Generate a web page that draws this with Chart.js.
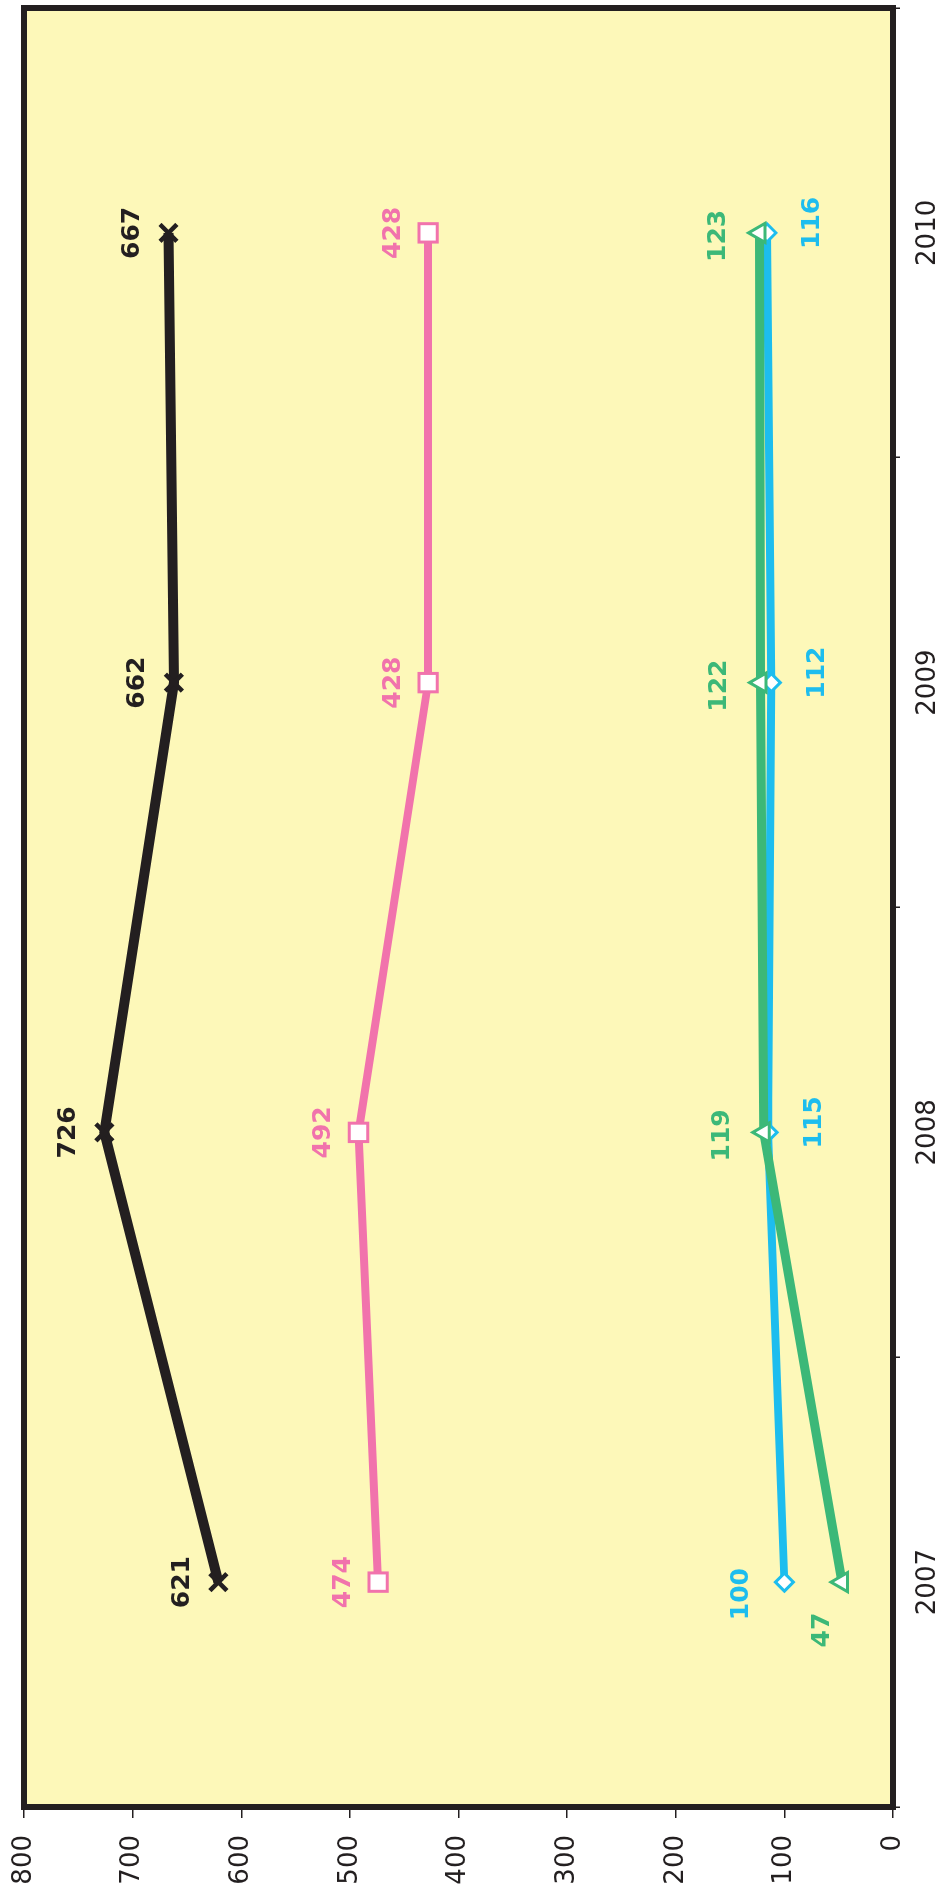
<!DOCTYPE html>
<html>
<head>
<meta charset="utf-8">
<script src="https://cdn.jsdelivr.net/npm/chart.js@4"></script>
<style>
    html, body { margin: 0; padding: 0; background: #fff; overflow: hidden; }
    #wrap {
        position: absolute; left: 0; top: 0;
        width: 1896px; height: 946px;
        transform-origin: 0 0;
        transform: translateY(1896px) rotate(-90deg);
    }
</style>
</head>
<body>
<div id="wrap"><canvas id="grafico" width="1896" height="946"></canvas></div>
<script>
// Datos
const anios = ['2007', '2008', '2009', '2010'];
const serieNegra = [621, 726, 662, 667];
const serieRosa = [474, 492, 428, 428];
const serieVerde = [47, 119, 122, 123];
const serieCian = [100, 115, 112, 116];
const ticksValores = [0, 100, 200, 300, 400, 500, 600, 700, 800];

const FUENTE = "'DejaVu Sans', Verdana, sans-serif";
const TINTA = '#231f20';

// area del grafico buscada (el lienzo se dibuja apaisado y luego se gira)
const AREA = { left: 89, top: 24, right: 1888, bottom: 893 };

// desplazamiento de etiquetas (px) por serie, con excepciones por punto
const etiquetas = {
    negra: { dx: 0, dy: -36 },
    rosa: { dx: 0, dy: -35 },
    verde: { dx: -3, dy: -41, puntos: { 0: { dx: -48, dy: -19 } } },
    cian: { dx: 10, dy: 46, puntos: { 0: { dx: -12, dy: -43 } } }
};

const fondoPlugin = {
    id: 'fondo',
    beforeDraw(chart) {
        const { ctx, chartArea: a } = chart;
        ctx.save();
        ctx.fillStyle = '#fdf8b9';
        ctx.fillRect(a.left, a.top, a.right - a.left, a.bottom - a.top);
        ctx.restore();
    },
    beforeDatasetsDraw(chart) {
        const { ctx, chartArea: a } = chart;
        ctx.save();
        ctx.strokeStyle = TINTA;
        ctx.lineWidth = 6;
        ctx.strokeRect(a.left, a.top, a.right - a.left, a.bottom - a.top);
        ctx.restore();
    }
};

const etiquetasPlugin = {
    id: 'etiquetas',
    afterDatasetsDraw(chart) {
        const { ctx } = chart;
        ctx.save();
        ctx.font = 'bold 25px ' + FUENTE;
        ctx.textAlign = 'center';
        ctx.textBaseline = 'middle';
        chart.data.datasets.forEach((ds, i) => {
            const meta = chart.getDatasetMeta(i);
            const conf = etiquetas[ds.clave];
            meta.data.forEach((pt, j) => {
                const off = (conf.puntos && conf.puntos[j]) || conf;
                ctx.fillStyle = ds.borderColor;
                ctx.fillText(String(ds.data[j]), pt.x + off.dx, pt.y + off.dy);
            });
        });
        ctx.restore();
    }
};

const padding = { left: 0, top: AREA.top, right: 1896 - AREA.right, bottom: 0 };

const grafico = new Chart(document.getElementById('grafico'), {
    type: 'line',
    data: {
        labels: anios,
        datasets: [
            {
                clave: 'verde', data: serieVerde, order: 0,
                borderColor: '#3cb878', borderWidth: 9,
                pointStyle: 'triangle', pointRadius: 11, pointBorderWidth: 3,
                pointBackgroundColor: '#ffffff', pointBorderColor: '#3cb878'
            },
            {
                clave: 'cian', data: serieCian, order: 1,
                borderColor: '#1dbdee', borderWidth: 8,
                pointStyle: 'rectRot', pointRadius: 9, pointBorderWidth: 3,
                pointBackgroundColor: '#ffffff', pointBorderColor: '#1dbdee'
            },
            {
                clave: 'rosa', data: serieRosa, order: 2,
                borderColor: '#f173ac', borderWidth: 8,
                pointStyle: 'rect', pointRadius: 13, pointBorderWidth: 3,
                pointBackgroundColor: '#ffffff', pointBorderColor: '#f173ac'
            },
            {
                clave: 'negra', data: serieNegra, order: 3,
                borderColor: TINTA, borderWidth: 10,
                pointStyle: 'crossRot', pointRadius: 12, pointBorderWidth: 4.5,
                pointBackgroundColor: TINTA, pointBorderColor: TINTA
            }
        ]
    },
    options: {
        responsive: false,
        animation: false,
        tension: 0,
        layout: { autoPadding: false, padding: padding },
        plugins: { legend: { display: false }, tooltip: { enabled: false } },
        scales: {
            x: {
                type: 'category',
                offset: true,
                grid: { display: true, drawOnChartArea: false, offset: true, tickLength: 7, color: TINTA, lineWidth: 1.5 },
                border: { display: false },
                ticks: { font: { family: FUENTE, size: 26 }, color: TINTA, padding: 13 },
                afterFit: s => { s.height = 946 - AREA.bottom; s.paddingLeft = 0; s.paddingRight = 0; }
            },
            y: {
                min: 0,
                max: 800,
                afterBuildTicks: s => { s.ticks = ticksValores.map(v => ({ value: v })); },
                grid: { display: true, drawOnChartArea: false, tickLength: 11, color: TINTA, lineWidth: 1.5 },
                border: { display: false },
                ticks: { font: { family: FUENTE, size: 26 }, color: TINTA, padding: 17 },
                afterFit: s => { s.width = AREA.left; s.paddingTop = 0; s.paddingBottom = 0; }
            }
        }
    },
    plugins: [fondoPlugin, etiquetasPlugin]
});

// ajuste fino por si el layout deja algo de margen extra
const a = grafico.chartArea;
padding.top += AREA.top - a.top;
padding.right += a.right - AREA.right;
padding.bottom += a.bottom - AREA.bottom;
padding.left += AREA.left - a.left;
grafico.update();
</script>
</body>
</html>
